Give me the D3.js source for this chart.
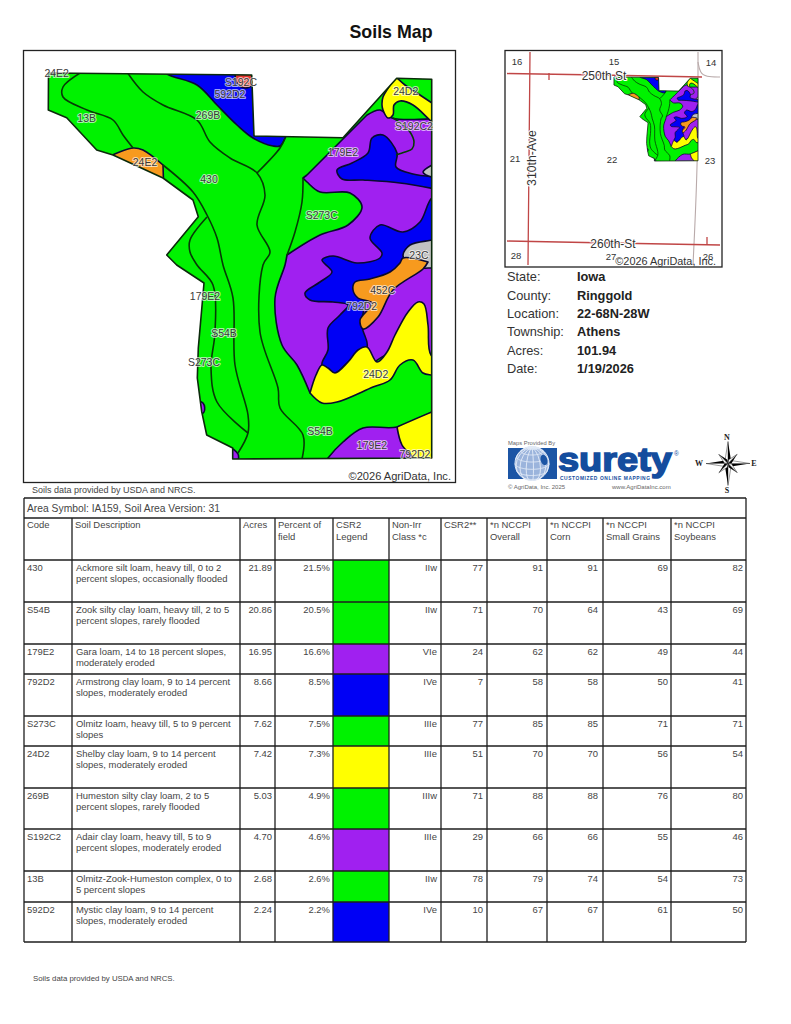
<!DOCTYPE html>
<html><head><meta charset="utf-8">
<script src="https://cdn.jsdelivr.net/npm/d3@7"></script>
<style>
html,body{margin:0;padding:0;background:#fff}
svg{display:block;font-family:"Liberation Sans",Arial,sans-serif}
</style></head><body><svg id="c" width="791" height="1024"></svg>
<script>
// ---------- table data ----------
const codes=["430","S54B","179E2","792D2","S273C","24D2","269B","S192C2","13B","592D2"];
const descriptions=[
["Ackmore silt loam, heavy till, 0 to 2","percent slopes, occasionally flooded"],
["Zook silty clay loam, heavy till, 2 to 5","percent slopes, rarely flooded"],
["Gara loam, 14 to 18 percent slopes,","moderately eroded"],
["Armstrong clay loam, 9 to 14 percent","slopes, moderately eroded"],
["Olmitz loam, heavy till, 5 to 9 percent","slopes"],
["Shelby clay loam, 9 to 14 percent","slopes, moderately eroded"],
["Humeston silty clay loam, 2 to 5","percent slopes, rarely flooded"],
["Adair clay loam, heavy till, 5 to 9","percent slopes, moderately eroded"],
["Olmitz-Zook-Humeston complex, 0 to","5 percent slopes"],
["Mystic clay loam, 9 to 14 percent","slopes, moderately eroded"]];
const acres=["21.89","20.86","16.95","8.66","7.62","7.42","5.03","4.70","2.68","2.24"];
const percents=["21.5%","20.5%","16.6%","8.5%","7.5%","7.3%","4.9%","4.6%","2.6%","2.2%"];
const csrClass=["green","green","purple","blue","green","yellow","green","purple","green","blue"];
const nonIrr=["IIw","IIw","VIe","IVe","IIIe","IIIe","IIIw","IIIe","IIw","IVe"];
const csr2=[77,71,24,7,77,51,71,29,78,10];
const nccpiOverall=[91,70,62,58,85,70,88,66,79,67];
const nccpiCorn=[91,64,62,58,85,70,88,66,74,67];
const nccpiSmall=[69,43,49,50,71,56,76,55,54,61];
const nccpiSoy=[82,69,44,41,71,54,80,46,73,50];
const headers=[["Code"],["Soil Description"],["Acres"],["Percent of","field"],["CSR2","Legend"],["Non-Irr","Class *c"],["CSR2**"],["*n NCCPI","Overall"],["*n NCCPI","Corn"],["*n NCCPI","Small Grains"],["*n NCCPI","Soybeans"]];
const infoLabels=["State:","County:","Location:","Township:","Acres:","Date:"];
const infoValues=["Iowa","Ringgold","22-68N-28W","Athens","101.94","1/19/2026"];

// ---------- soil map geometry, in map units (c() = repeated vertex = corner) ----------
const field=[[48.5,73],[251.7,75],[254,136],[343,137.7],[396.7,78.3],[431.7,79.3],[431.7,458],[232.7,459],[232.7,448],[206.7,435],[201.7,411.7],[197.3,378],[198.3,348],[202.7,298],[204,283],[176.7,265],[166.7,255],[198.3,216.7],[193,200],[163,178],[113,155],[96.7,150],[66.7,117.7],[48.3,110]];
const c=p=>[p,p];
const purpleEast=[...c([307,175]),...c([367,115]),[380,110],[392,118],...c([440,118]),...c([440,365]),[400,350],[340,385],...c([310,393]),[297,365],[282,345],[275,298],[285,265],...c([287,255]),[320,235],[348,225],[362,207],[350,193],[320,192],[307,182],...c([303,178])];
const purpleSouth=[...c([320,470]),[328,458],[343,442],[363,428],[397,427],[432,412],...c([445,405]),...c([445,470])];
const purpleSliverA=[...c([224,444]),[238,454],...c([237,466]),...c([224,466])];
const purpleSliverB=[...c([190,400]),[203,403],[204,412],...c([190,420])];
const blueEast=[...c([445,195]),[432,198],[420,222],[403,232],[380,225],[370,238],[382,253],[380,258],[357,263],[333,256],[322,260],[332,272],[320,282],[305,293],[310,300],[333,302],[348,305],[340,315],[328,328],[328,350],[322,365],[335,373],[348,362],[367,347],[362,325],[370,295],[400,275],[415,268],...c([445,250])];
const blueUpper=[[337,170],[352,163],[368,153],[372,138],[383,135],[397,153],[396,167],[413,174],...c([440,177]),...c([440,190]),[400,183],[363,180],[342,179]];
const blueNorth=[...c([160,66]),[167,74],[197,85],[217,105],[237,125],[253,138],[273,146],[280,146],...c([286,136]),...c([262,60])];
const redNorth=[...c([235,70]),...c([258,70]),...c([254,85]),[245,88],[237,83]];
const yellowMain=[...c([310,393]),[316,375],[322,365],[328,368],[335,373],[348,362],[358,350],[367,347],[377,362],[387,352],[395,335],[408,312],[418,302],[424,304],[428,325],[431,355],...c([445,362]),...c([445,376]),[432,375],[423,373],[413,360],[400,365],[390,380],[373,387],[337,402],[322,403]];
const yellowNorth=[[382,105],[383,97],[392,82],...c([395,76]),[405,85],[417,93],...c([432,103]),...c([445,108]),...c([445,132]),[432,122],[413,105],[400,101],[394,105],[393,115],[388,118],[383,110]];
const yellowSouth=[...c([397,427]),[402,445],[413,458],...c([415,470]),...c([445,470]),...c([445,407]),[432,412]];
const orangeEast=[[403,258],[400,263],[390,272],[370,279],[355,282],[353,290],[358,298],[372,303],[360,320],[363,329],[378,317],[393,290],[423,269],...c([428,262])];
const orangeWest=[...c([108,157]),[133,148],[143,150],...c([163,165]),...c([163.5,181]),...c([108,160])];
const grayEast=[[403,255],[410,245],[432,240],...c([440,238]),...c([440,270]),[432,268],[423,268],[407,262]];
const graySmall=[...c([445,160]),[432,165],[423,172],[426,175],[432,177],...c([445,178])];
const soilPolygons=[[purpleEast,"purple"],[purpleSouth,"purple"],[purpleSliverA,"purple"],[purpleSliverB,"purple"],[blueEast,"blue"],[blueUpper,"blue"],[blueNorth,"blue"],[redNorth,"red"],[yellowMain,"yellow"],[yellowNorth,"yellow"],[yellowSouth,"yellow"],[grayEast,"gray"],[graySmall,"gray"],[orangeEast,"orange"],[orangeWest,"orange"]];
const boundaryLines=[
[[81.7,72],[63,87],[63,97],[87,110],[113,120],[123,135],[133,148]],
[[163,165],[193,192],[207,215],[217,238],[223,265],[233,298],[235,365],[248,415],[248,433],[238,453]],
[[207,217],[190,240],[190,252],[197,265],[213,285],[215,332],[211,368],[217,402],[248,433]],
[[127,72],[143,92],[163,105],[197,120],[210,142],[230,158],[257,173],[265,195],[257,225],[270,252],[263,265],[260,332],[278,388],[280,408],[303,435],[302,459]],
[[285,138],[280,148],[257,173]],
[[303,178],[302,202],[295,232],[287,255]],
[[393,118],[402,124],[410,132],[414,142],[412,149],[405,152],[396,155]]];
const soilLabels=[["24E2",56.7,73.3],["13B",86.7,118],["S192C",241,82.7],["592D2",230,94],["269B",208,115.7],["24D2",405.7,91.7],["S192C2",414,126],["179E2",343,152.7],["24E2",145,162],["430",209,179],["S273C",321.7,215],["23C",419,255],["452C",382.7,290],["792D2",361.7,306.7],["179E2",205,296.7],["S54B",224,333],["S273C",204,362.7],["24D2",375.7,374],["S54B",320,431.7],["179E2",372,445.7],["792D2",415,454]];
const fills={green:"#00f200",purple:"#a020f0",blue:"#0000f5",yellow:"#ffff00",orange:"#f79a1e",gray:"#c2c2c2",red:"#e2352e"};

// inset map content, in inset-frame units
const sectionLabels=[["16",517,61],["15",614,61],["14",711,62],["21",515,158],["22",612,159],["23",710,160],["28",516,255],["27",611,256],["26",708,256]];
const redRoads=[[[507,73.5],[600,75],[702,77]],[[530,52],[529,160],[528,265]],[[507,241],[610,243],[720,245]],[[549,73],[549,80]],[[707,237],[707,245]]];
const grayRoads=[[[698,52],[698,161],[693,265]],[[698,62],[700,73],[706,77],[720,77]]];

// ---------- drawing ----------
const svg=d3.select("#c");
const txt="#454545";
const add=(g,s,x,y,o={})=>g.append("text").attr("x",x).attr("y",y).text(s)
  .attr("font-size",o.size||9).attr("fill",o.fill||txt).attr("text-anchor",o.anchor||"start")
  .attr("font-weight",o.weight||null).attr("font-family",o.family||null);
add(svg,"Soils Map",391,37.5,{size:17.8,weight:"bold",anchor:"middle",fill:"#111"});

const closed=d3.curveCatmullRomClosed.alpha(.5), open=d3.curveCatmullRom.alpha(.5);
function drawSoil(id,x,y,sw){
  const g=svg.append("g");
  const lin=d3.line().x(d=>x(d[0])).y(d=>y(d[1]));
  svg.append("clipPath").attr("id",id).append("path").attr("d",lin.curve(d3.curveLinearClosed)(field));
  g.append("path").attr("d",lin.curve(d3.curveLinearClosed)(field)).attr("fill",fills.green);
  const ig=g.append("g").attr("clip-path",`url(#${id})`);
  ig.selectAll("path.s").data(soilPolygons).join("path").attr("class","s")
    .attr("d",d=>lin.curve(closed)(d[0])).attr("fill",d=>fills[d[1]])
    .attr("stroke","#0a0a30").attr("stroke-width",sw).attr("stroke-linejoin","round");
  ig.selectAll("path.l").data(boundaryLines).join("path").attr("class","l")
    .attr("d",d=>lin.curve(open)(d)).attr("fill","none").attr("stroke","#063a06").attr("stroke-width",sw);
  g.append("path").attr("d",lin.curve(d3.curveLinearClosed)(field)).attr("fill","none")
    .attr("stroke","#0b2a0b").attr("stroke-width",sw).attr("stroke-linejoin","round");
}
// main map
svg.append("rect").attr("x",23.5).attr("y",50.5).attr("width",432).attr("height",432).attr("fill","#fff").attr("stroke","#222").attr("stroke-width",1.3);
const mx=d3.scaleLinear().domain([48,432]).range([48,432]), my=d3.scaleLinear().domain([73,459]).range([73,459]);
drawSoil("clipMain",mx,my,1.6);
svg.append("g").selectAll("text").data(soilLabels).join("text")
  .attr("x",d=>mx(d[1])).attr("y",d=>my(d[2])+3.7).text(d=>d[0]).attr("text-anchor","middle")
  .attr("font-size",10.5).attr("fill","#3a3a3a").attr("stroke","#fff").attr("stroke-width",2).attr("stroke-opacity",.65).attr("paint-order","stroke").attr("stroke-linejoin","round");
add(svg,"©2026 AgriData, Inc.",451,480,{size:11.1,anchor:"end",fill:"#333"});
add(svg,"Soils data provided by USDA and NRCS.",32,493,{size:9});

// inset
svg.append("rect").attr("x",505).attr("y",50.5).attr("width",217).attr("height",216.5).attr("fill","#fff").attr("stroke","#222").attr("stroke-width",1.3);
const ix=d3.scaleLinear().domain([505,722]).range([505,722]), iy=d3.scaleLinear().domain([50,267]).range([50,267]);
const roadLine=d3.line().x(d=>ix(d[0])).y(d=>iy(d[1]));
svg.append("g").selectAll("path").data(grayRoads).join("path").attr("d",roadLine.curve(d3.curveBasis)).attr("fill","none").attr("stroke","#b9aaaa").attr("stroke-width",1.1);
svg.append("g").selectAll("path").data(redRoads).join("path").attr("d",roadLine.curve(d3.curveLinear)).attr("fill","none").attr("stroke","#c04646").attr("stroke-width",1.3);
const sx=d3.scaleLinear().domain([48.5,431.7]).range([614,698]), sy=d3.scaleLinear().domain([73,459]).range([77,161]);
drawSoil("clipInset",sx,sy,.8);
sectionLabels.forEach(d=>add(svg,d[0],ix(d[1]),iy(d[2])+3.5,{size:9.5,anchor:"middle",fill:"#333"}));
const halo=(s)=>s.attr("stroke","#fff").attr("stroke-width",2).attr("paint-order","stroke");
halo(add(svg,"250th St",604,80,{size:12,anchor:"middle",fill:"#333"}));
halo(add(svg,"260th-St",613,248,{size:12,anchor:"middle",fill:"#333"}));
halo(add(svg,"310th-Ave",0,0,{size:12.3,anchor:"middle",fill:"#333"}).attr("transform","translate(536,158) rotate(-90)"));
add(svg,"©2026 AgriData, Inc.",716,265,{size:10.9,anchor:"end",fill:"#333"});

// info block
const infoY=[281,299.5,318,336,354.5,372.5];
infoLabels.forEach((s,i)=>{add(svg,s,507,infoY[i],{size:12.8,fill:"#333"});add(svg,infoValues[i],577,infoY[i],{size:12.8,weight:"bold",fill:"#222"});});

// surety logo
const logo=svg.append("g");
add(logo,"Maps Provided By",508,445,{size:5.8,fill:"#666"});
logo.append("rect").attr("x",508).attr("y",448).attr("width",49).attr("height",31).attr("fill","#1c55a5");
const proj=d3.geoOrthographic().scale(17).translate([532,463.5]).rotate([30,-20]).clipAngle(90);
const gp=d3.geoPath(proj);
logo.append("ellipse").attr("cx",532).attr("cy",463.5).attr("rx",17).attr("ry",17).attr("fill","#9bb4dc").attr("stroke","#dfe8f6").attr("stroke-width",1);
logo.append("path").attr("d",gp(d3.geoGraticule().step([25,25])())).attr("fill","none").attr("stroke","#e4ecf8").attr("stroke-width",.9);
logo.append("path").attr("d",gp(d3.geoCircle().center([25,25]).radius(18)())).attr("fill","#1c55a5");
logo.append("text").attr("x",558).attr("y",470.5).text("surety").attr("font-size",34).attr("font-weight","bold").attr("fill","#144d9e").attr("stroke","#144d9e").attr("stroke-width",1.5).attr("textLength",114).attr("lengthAdjust","spacingAndGlyphs");
add(logo,"CUSTOMIZED ONLINE MAPPING",560,479.5,{size:4.9,weight:"bold",fill:"#144d9e"}).attr("textLength",90);
add(logo,"®",674,456,{size:6.5,fill:"#144d9e"});
add(logo,"© AgriData, Inc. 2025",508,489,{size:6,fill:"#666"});
add(logo,"www.AgriDataInc.com",612,489,{size:6,fill:"#666"});

// compass
const cg=svg.append("g").attr("transform","translate(728,463.5)");
const diag=10,card=22,w=3;
[0,90,180,270].forEach(a=>{
  const r=cg.append("g").attr("transform",`rotate(${a})`);
  r.append("path").attr("d",`M0,${-card}L${w},${-w}L0,0Z`).attr("fill","#000");
  r.append("path").attr("d",`M0,${-card}L${-w},${-w}L0,0Z`).attr("fill","#fff").attr("stroke","#000").attr("stroke-width",.4);
});
[45,135,225,315].forEach(a=>{
  const r=cg.append("g").attr("transform",`rotate(${a})`);
  r.append("path").attr("d",`M0,${-diag-3}L2.2,-3L0,0Z`).attr("fill","#000");
  r.append("path").attr("d",`M0,${-diag-3}L-2.2,-3L0,0Z`).attr("fill","#fff").attr("stroke","#000").attr("stroke-width",.4);
});
[["N",727,440],["S",727,493],["W",699,466],["E",754,466]].forEach(d=>add(svg,d[0],d[1],d[2],{size:8,weight:"bold",anchor:"middle",family:"Liberation Serif",fill:"#222"}));

// table
const colX=[24,72,240,275,333,389,441,487,547,603,671,746];
const rowH=[42,42,30,42,30,42,41,42,31,40];
const rowY=d3.cumsum(rowH,d=>d).reduce((a,v)=>(a.push(560+v),a),[560]);
const t=svg.append("g");
const L="#1e1e1e";
t.selectAll("rect.cell").data(csrClass).join("rect").attr("class","cell").attr("x",colX[4]).attr("width",colX[5]-colX[4])
 .attr("y",(d,i)=>rowY[i]).attr("height",(d,i)=>rowY[i+1]-rowY[i]).attr("fill",d=>fills[d]);
const hl=[498,518,...rowY];
t.selectAll("line.h").data(hl).join("line").attr("class","h").attr("x1",colX[0]).attr("x2",colX[11]).attr("y1",d=>d).attr("y2",d=>d).attr("stroke",L).attr("stroke-width",1.3);
t.selectAll("line.v").data(colX).join("line").attr("class","v").attr("x1",d=>d).attr("x2",d=>d)
 .attr("y1",(d,i)=>(i==0||i==11)?498:518).attr("y2",942).attr("stroke",L).attr("stroke-width",1.3);
add(t,"Area Symbol: IA159, Soil Area Version: 31",27,512,{size:10.3});
const sz=9.45;
headers.forEach((h,i)=>h.forEach((s,j)=>add(t,s,colX[i]+3,528+j*11.6,{size:sz})));
codes.forEach((code,i)=>{
  const y=rowY[i]+11;
  add(t,code,27,y,{size:sz});
  descriptions[i].forEach((s,j)=>add(t,s,76,y+j*11.4,{size:sz}));
  [[acres,272],[percents,330],[nonIrr,437],[csr2,483],[nccpiOverall,543],[nccpiCorn,598],[nccpiSmall,668],[nccpiSoy,743]]
    .forEach(([arr,r])=>add(t,arr[i],r,y,{size:sz,anchor:"end"}));
});
add(svg,"Soils data provided by USDA and NRCS.",33,981,{size:7.8});
</script></body></html>
